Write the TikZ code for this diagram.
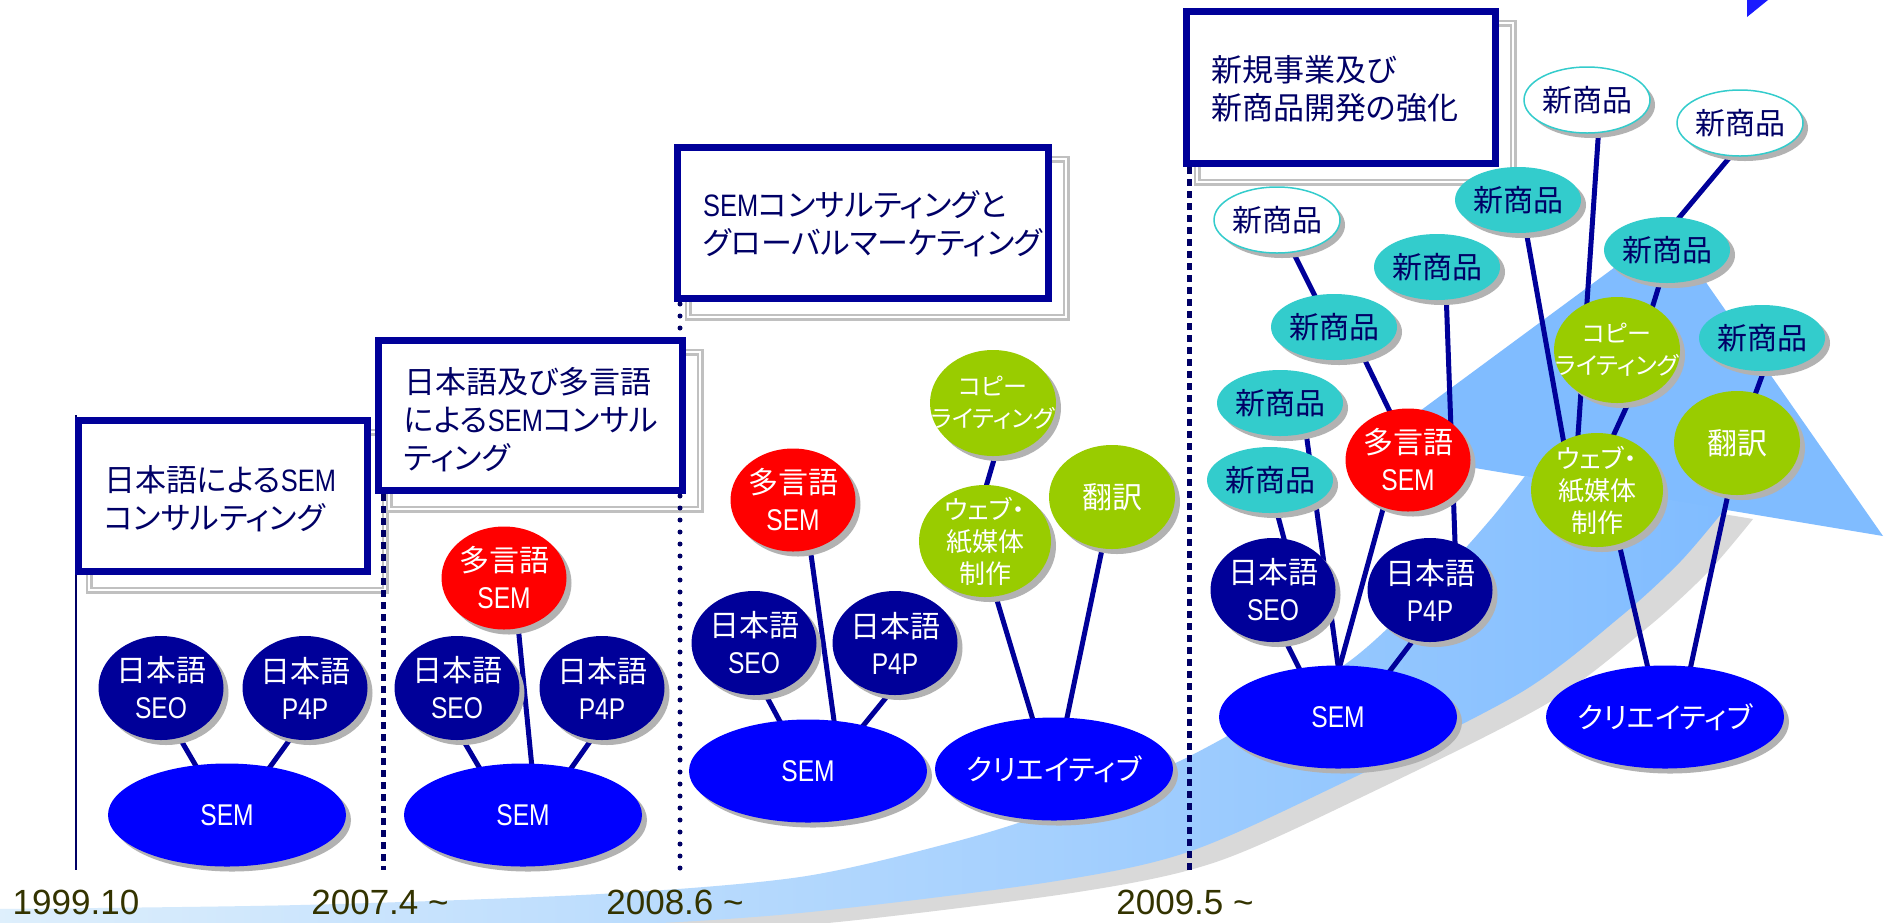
\documentclass[tikz,border=0pt]{standalone}
\usepackage{fontspec}
\setmainfont{Liberation Sans}[FakeStretch=0.82]
\newfontfamily\jp{Noto Sans CJK JP}[RawFeature=+palt]
\newfontfamily\dfont{Liberation Sans}
\usetikzlibrary{shapes.geometric,shadows}
\definecolor{navy}{RGB}{0,0,153}
\definecolor{dnavy}{RGB}{0,0,102}
\definecolor{sblue}{RGB}{0,0,255}
\definecolor{sred}{RGB}{255,0,0}
\definecolor{sgreen}{RGB}{153,204,0}
\definecolor{steal}{RGB}{51,204,204}
\definecolor{olive}{RGB}{51,51,0}
\definecolor{bandL}{RGB}{222,239,252}
\definecolor{bandR}{RGB}{128,188,255}
\definecolor{headc}{RGB}{128,188,255}
\definecolor{bshadow}{RGB}{217,217,217}
\definecolor{frameg}{RGB}{192,192,192}
\definecolor{tipblue}{RGB}{26,26,255}
\pgfdeclarelayer{bg}
\pgfdeclarelayer{lines}
\pgfsetlayers{bg,lines,main}
\tikzset{
 bub/.style={ellipse, inner sep=-25pt, align=center, text=white,
   font=\fontsize{30}{37}\selectfont,
   drop shadow={shadow xshift=5pt, shadow yshift=-5pt, opacity=1, fill=black!30}},
 bsem/.style={bub, fill=sblue, minimum width=238pt, minimum height=103pt},
 bnav/.style={bub, fill=navy, minimum width=125pt, minimum height=104pt},
 bred/.style={bub, fill=sred, minimum width=125pt, minimum height=103pt},
 bgrn/.style={bub, fill=sgreen, minimum width=126pt, minimum height=104pt},
 bnew/.style={bub, fill=steal, text=dnavy, minimum width=126pt, minimum height=66pt},
 bneww/.style={bnew, fill=white, draw=steal, line width=1.5pt},
 ftcopy/.style={font=\jp\fontsize{24}{32}\selectfont},
 ftweb/.style={font=\jp\fontsize{26}{32}\selectfont},
 ftcre/.style={font=\jp\fontsize{29}{35}\selectfont},
 conn/.style={draw=navy, line width=5pt},
 tbox/.style={rectangle, draw=navy, line width=7pt, fill=white, inner sep=0pt},
 tshadow/.style={draw=frameg, line width=2.5pt, double=white, double distance=2pt},
 ttext/.style={anchor=west, align=left, inner sep=0pt, text=dnavy, font=\fontsize{31}{38}\selectfont},
 datel/.style={inner sep=0pt, text=olive, font=\dfont\fontsize{35}{40}\selectfont},
 vsolid/.style={draw=dnavy, line width=2pt},
 vsq/.style={draw=dnavy, line width=5pt, dash pattern=on 7pt off 5pt},
 vdot/.style={draw=dnavy, line width=5pt, line cap=round, dash pattern=on 0pt off 12pt},
}
\newcommand\cn[4]{\draw[conn] ([shift={#2}]#1.center) -- ([shift={#4}]#3.center);}
\begin{document}
\begin{tikzpicture}[x=1pt,y=-1pt]
\useasboundingbox (0,0) rectangle (1887,922);
% ---- big curved arrow ----
\begin{pgfonlayer}{bg}
\fill[white] (0,0) rectangle (1887,922);
\fill[bshadow, shift={(28,10)}] plot[smooth] coordinates {(-5,909) (300,905) (600,894) (800,877) (950,843) (1050,812) (1188,757) (1347,663) (1440,575) (1490,520) (1525,476)}
  -- plot[smooth] coordinates {(1725,509) (1680,562) (1620,617) (1520,693) (1338,785) (1188,852) (1050,882) (800,913) (600,926) (300,936) (-5,942)} -- cycle;
\fill[headc] (1367,450) -- (1668,228) -- (1883,536) -- cycle;
\shade[left color=bandL, right color=bandR] plot[smooth] coordinates {(-5,909) (300,905) (600,894) (800,877) (950,843) (1050,812) (1188,757) (1347,663) (1440,575) (1490,520) (1525,476)}
  -- plot[smooth] coordinates {(1725,509) (1680,562) (1620,617) (1520,693) (1338,785) (1188,852) (1050,882) (800,913) (600,926) (300,936) (-5,942)} -- cycle;
\fill[tipblue] (1747,0) -- (1768,0) -- (1747,17) -- cycle;
\end{pgfonlayer}
% ---- time lines ----
\coordinate (v1a) at (75.5,415); \coordinate (v1b) at (75.5,870);
\coordinate (v2a) at (383,494); \coordinate (v2b) at (383,870);
\coordinate (v3a) at (680,304); \coordinate (v3b) at (680,870);
\coordinate (v4a) at (1189,167); \coordinate (v4b) at (1189,870);
\draw[vsolid] (v1a) -- (v1b);
\draw[vsq] (v2a) -- (v2b);
\draw[vdot] (v3a) -- (v3b);
\draw[vsq] (v4a) -- (v4b);
% ---- title boxes ----
\node[tbox, minimum width=289pt, minimum height=151pt] (b1) at (223,496) {};
\node[tbox, minimum width=304pt, minimum height=150pt] (b2) at (530.5,415.5) {};
\node[tbox, minimum width=371pt, minimum height=151pt] (b3) at (863,223) {};
\node[tbox, minimum width=309pt, minimum height=152pt] (b4) at (1341,87.5) {};
\begin{pgfonlayer}{lines}
\draw[tshadow] ([shift={(14,15)}]b1.north west) rectangle ([shift={(14,15)}]b1.south east);
\draw[tshadow] ([shift={(14,15)}]b2.north west) rectangle ([shift={(14,15)}]b2.south east);
\draw[tshadow] ([shift={(14,15)}]b3.north west) rectangle ([shift={(14,15)}]b3.south east);
\draw[tshadow] ([shift={(14,15)}]b4.north west) rectangle ([shift={(14,15)}]b4.south east);
\end{pgfonlayer}
\node[ttext] (t1) at (104,499) {{\jp 日本語による}SEM\\{\jp コンサルティング}};
\node[ttext] (t2) at (404,420) {{\jp 日本語及び多言語}\\{\jp による}SEM{\jp コンサル}\\{\jp ティング}};
\node[ttext] (t3) at (703,224) {SEM{\jp コンサルティングと}\\{\jp グローバルマーケティング}};
\node[ttext] (t4) at (1211,89) {{\jp 新規事業及び}\\{\jp 新商品開発の強化}};
% ---- dates ----
\node[datel] (d1) at (76,902) {1999.10};
\node[datel] (d2) at (380,902) {2007.4 \textasciitilde};
\node[datel] (d3) at (675,902) {2008.6 \textasciitilde};
\node[datel] (d4) at (1185,902) {2009.5 \textasciitilde};
% ---- panel 1 ----
\node[bsem] (p1sem) at (227,815) {SEM};
\node[bnav] (p1seo) at (161,688) {{\jp 日本語}\\SEO};
\node[bnav] (p1p4p) at (305,688) {{\jp 日本語}\\P4P};
% ---- panel 2 ----
\node[bsem] (p2sem) at (523,815) {SEM};
\node[bnav] (p2seo) at (457,688) {{\jp 日本語}\\SEO};
\node[bnav] (p2p4p) at (602,688) {{\jp 日本語}\\P4P};
\node[bred] (p2red) at (504,578) {{\jp 多言語}\\SEM};
% ---- panel 3 ----
\node[bsem] (p3sem) at (808,771) {SEM};
\node[bnav] (p3seo) at (754,643) {{\jp 日本語}\\SEO};
\node[bnav] (p3p4p) at (895,643) {{\jp 日本語}\\P4P};
\node[bred] (p3red) at (793,500) {{\jp 多言語}\\SEM};
\node[bsem, ftcre] (p3cre) at (1054,769) {クリエイティブ};
\node[bgrn, ftcopy, minimum height=106pt] (p3copy) at (993,403) {コピー\\ライティング};
\node[bgrn, ftweb, minimum width=132pt, minimum height=112pt] (p3web) at (985,541) {ウェブ・\\紙媒体\\制作};
\node[bgrn] (p3tr) at (1112,497) {{\jp 翻訳}};
% ---- panel 4 ----
\node[bsem] (p4sem) at (1338,717) {SEM};
\node[bsem, ftcre] (p4cre) at (1665,717) {クリエイティブ};
\node[bnav] (p4seo) at (1273,590) {{\jp 日本語}\\SEO};
\node[bnav] (p4p4p) at (1430,590) {{\jp 日本語}\\P4P};
\node[bred] (p4red) at (1408,460) {{\jp 多言語}\\SEM};
\node[bgrn, ftweb, minimum width=132pt, minimum height=114pt] (p4web) at (1597,490) {ウェブ・\\紙媒体\\制作};
\node[bgrn, ftcopy, minimum height=106pt] (p4copy) at (1617,350) {コピー\\ライティング};
\node[bgrn] (p4tr) at (1737,443) {{\jp 翻訳}};
\node[bnew] (na) at (1270,480) {{\jp 新商品}};
\node[bnew] (nb) at (1280,403) {{\jp 新商品}};
\node[bnew] (nc) at (1334,327) {{\jp 新商品}};
\node[bneww] (nd) at (1277,220) {{\jp 新商品}};
\node[bnew] (ne) at (1437,267) {{\jp 新商品}};
\node[bnew] (nf) at (1518,200) {{\jp 新商品}};
\node[bneww] (ng) at (1587,100) {{\jp 新商品}};
\node[bnew] (nh) at (1667,250) {{\jp 新商品}};
\node[bneww] (ni) at (1740,123) {{\jp 新商品}};
\node[bnew] (nj) at (1762,338) {{\jp 新商品}};
% ---- connectors ----
\begin{pgfonlayer}{lines}
\cn{p1seo}{(14,42)}{p1sem}{(-24,-37)}
\cn{p1p4p}{(-9,43)}{p1sem}{(35,-37)}
\cn{p2seo}{(2,45)}{p2sem}{(-37,-36)}
\cn{p2p4p}{(-6,45)}{p2sem}{(42,-38)}
\cn{p2red}{(13,37)}{p2sem}{(10,-37)}
\cn{p3seo}{(8,45)}{p3sem}{(-24,-42)}
\cn{p3p4p}{(-2,46)}{p3sem}{(50,-39)}
\cn{p3red}{(16,40)}{p3sem}{(28,-36)}
\cn{p3copy}{(5,43)}{p3web}{(-2,-44)}
\cn{p3web}{(8,46)}{p3cre}{(-18,-39)}
\cn{p3tr}{(-7,38)}{p3cre}{(10,-37)}
\cn{p4seo}{(8,42)}{p4sem}{(-33,-37)}
\cn{p4p4p}{(-12,44)}{p4sem}{(45,-37)}
\cn{p4red}{(-22,38)}{p4sem}{(-2,-37)}
\cn{nb}{(25,22)}{p4sem}{(2,-37)}
\cn{na}{(5,25)}{p4seo}{(14,-40)}
\cn{nc}{(26,23)}{p4red}{(-14,-40)}
\cn{nd}{(15,30)}{nc}{(-16,-25)}
\cn{ne}{(9,23)}{p4p4p}{(26,-20)}
\cn{nf}{(7,25)}{p4web}{(-31,-35)}
\cn{ng}{(12,25)}{p4web}{(-20,-40)}
\cn{ni}{(0,22)}{nh}{(6,-25)}
\cn{nh}{(-5,26)}{p4copy}{(32,-32)}
\cn{p4copy}{(14,47)}{p4web}{(12,-45)}
\cn{nj}{(4,27)}{p4tr}{(15,-40)}
\cn{p4web}{(20,45)}{p4cre}{(-15,-40)}
\cn{p4tr}{(-7,42)}{p4cre}{(23,-38)}
\end{pgfonlayer}
\end{tikzpicture}
\end{document}
